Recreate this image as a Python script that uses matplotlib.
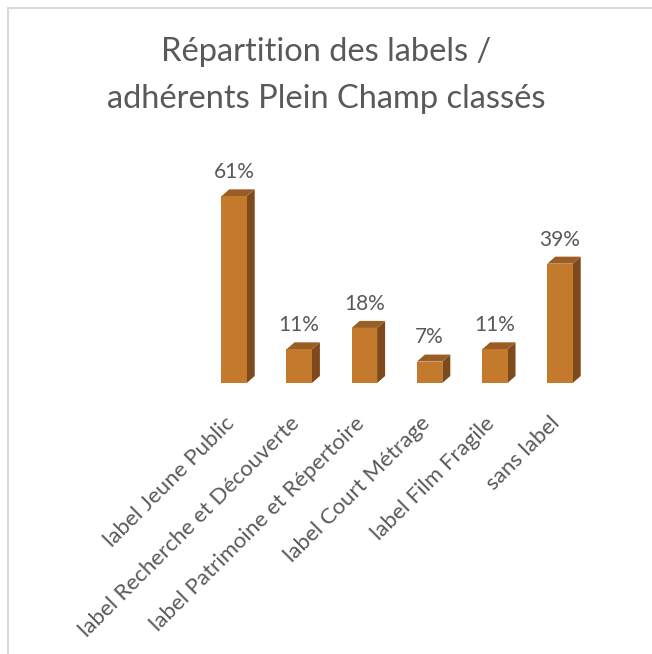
import matplotlib
matplotlib.use("Agg")
import matplotlib.pyplot as plt
import matplotlib.transforms as mtransforms
from matplotlib.patches import Polygon
from matplotlib.lines import Line2D

categories = ["label Jeune Public", "label Recherche et Découverte",
              "label Patrimoine et Répertoire", "label Court Métrage",
              "label Film Fragile", "sans label"]
values = [61, 11, 18, 7, 11, 39]
value_labels = ["61%", "11%", "18%", "7%", "11%", "39%"]
title_lines = ["Répartition des labels /", "adhérents Plein Champ classés"]

plt.rcParams['font.family'] = ['Lato', 'DejaVu Sans']
TXT = "#595959"
FRONT = "#C47A2C"
SIDE = "#7E4A1C"
TOP = "#9A5D24"

W, H = 652, 654
fig = plt.figure(figsize=(W / 100, H / 100), dpi=100)
fig.patch.set_facecolor("white")

# border (left and top)
fig.add_artist(Line2D([8 / W, 8 / W], [0, 1 - 8 / H], transform=fig.transFigure,
                      color="#D9D9D9", lw=1.5))
fig.add_artist(Line2D([8 / W, 1], [1 - 8 / H, 1 - 8 / H], transform=fig.transFigure,
                      color="#D9D9D9", lw=1.5))

px_per_unit = 65.2
ax_left = 234 - 0.5 * px_per_unit
ax_w = 6 * px_per_unit
ymax = 70
px_per_pct = 3.06
ax_h = ymax * px_per_pct
base = 383
ax = fig.add_axes([ax_left / W, (H - base) / H, ax_w / W, ax_h / H])
ax.set_xlim(-0.5, 5.5)
ax.set_ylim(0, ymax)
ax.set_facecolor("none")
for s in ax.spines.values():
    s.set_visible(False)
ax.tick_params(length=0)
ax.set_yticks([])

bw = 0.39
dx = 8 / px_per_unit
dy = 7 / px_per_pct
xs = list(range(len(values)))
bars = ax.bar(xs, values, width=bw, color=FRONT, edgecolor="none", zorder=3)
for x, v in zip(xs, values):
    r = x + bw / 2
    l = x - bw / 2
    ax.add_patch(Polygon([(r, 0), (r + dx, dy), (r + dx, v + dy), (r, v)],
                         closed=True, facecolor=SIDE, edgecolor="none", zorder=2))
    ax.add_patch(Polygon([(l, v), (r, v), (r + dx, v + dy), (l + dx, v + dy)],
                         closed=True, facecolor=TOP, edgecolor="none", zorder=2))

for x, v, lab in zip(xs, values, value_labels):
    ax.annotate(lab, (x, v + dy), xytext=(0, 8), textcoords="offset points",
                ha="center", va="baseline", fontsize=15, color=TXT)

ax.set_xticks(xs)
ax.set_xticklabels(categories, rotation=45, ha="right", va="top",
                   rotation_mode="anchor", fontsize=16, color=TXT)
ax.tick_params(axis="x", pad=16)
shift = mtransforms.ScaledTranslation(-10 / 100, -8 / 100, fig.dpi_scale_trans)
for lbl in ax.get_xticklabels():
    lbl.set_transform(lbl.get_transform() + shift)

# title lines, baselines placed individually
fig.text(0.5, 1 - 61 / H, title_lines[0], ha="center", va="baseline",
         fontsize=23.5, color=TXT)
fig.text(0.5, 1 - 108 / H, title_lines[1], ha="center", va="baseline",
         fontsize=23.5, color=TXT)

fig.savefig("out.png", dpi=100, facecolor="white")
